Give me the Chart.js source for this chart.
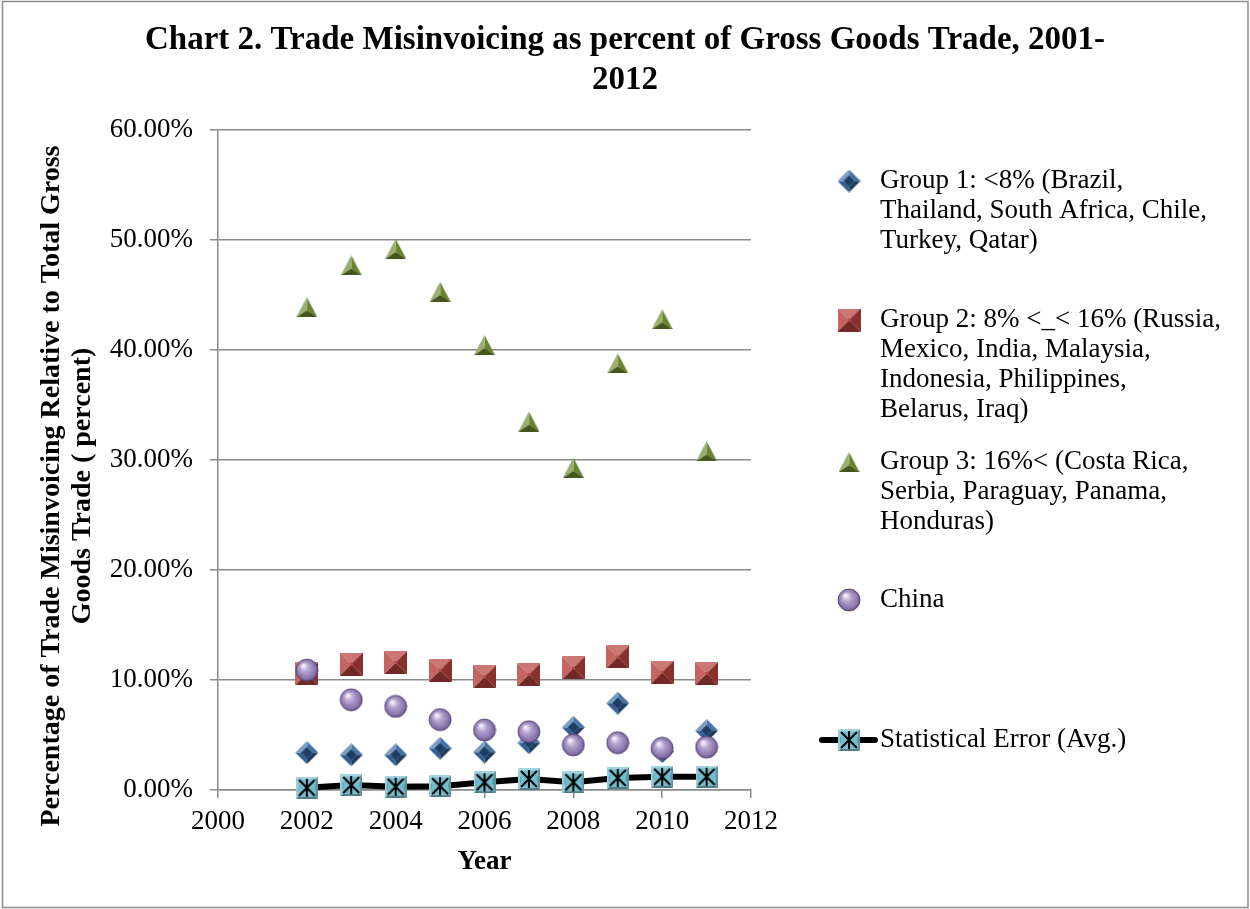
<!DOCTYPE html>
<html>
<head>
<meta charset="utf-8">
<title>Chart 2. Trade Misinvoicing</title>
<script src="https://cdn.jsdelivr.net/npm/chart.js@4.4.1/dist/chart.umd.min.js"></script>
<style>
    html, body { margin: 0; padding: 0; background: #fff; }
    #wrap { width: 1250px; height: 909px; position: relative; }
</style>
</head>
<body>
<div id="wrap"><canvas id="chart" width="1250" height="909"></canvas></div>
<script>
// Data (percent of gross goods trade)
const years = [2002, 2003, 2004, 2005, 2006, 2007, 2008, 2009, 2010, 2011];
const group1 = [3.4, 3.2, 3.2, 3.8, 3.45, 4.3, 5.7, 7.9, 3.5, 5.4];
const group2 = [10.6, 11.45, 11.6, 10.9, 10.3, 10.5, 11.1, 12.1, 10.7, 10.6];
const group3 = [43.9, 47.7, 49.2, 45.3, 40.45, 33.5, 29.3, 38.8, 42.8, 30.8];
const china = [10.9, 8.2, 7.6, 6.4, 5.45, 5.3, 4.1, 4.3, 3.8, 3.9];
const statError = [0.2, 0.45, 0.3, 0.35, 0.7, 1.0, 0.7, 1.1, 1.2, 1.2];

const xMin = 2000, xMax = 2012, xStep = 2;
const yMin = 0, yMax = 60, yStep = 10;

const titleLines = ['Chart 2. Trade Misinvoicing as percent of Gross Goods Trade, 2001-', '2012'];
const xTitle = 'Year';
const yTitleLines = ['Percentage of Trade Misinvoicing Relative to Total Gross', 'Goods Trade ( percent)'];

// legend text, wrapped the way the original wraps it
const legendLabels = [
    ['Group 1: <8% (Brazil,', 'Thailand, South Africa, Chile,', 'Turkey, Qatar)'],
    ['Group 2: 8% <_< 16% (Russia,', 'Mexico, India, Malaysia,', 'Indonesia, Philippines,', 'Belarus, Iraq)'],
    ['Group 3: 16%< (Costa Rica,', 'Serbia, Paraguay, Panama,', 'Honduras)'],
    ['China'],
    ['Statistical Error (Avg.)']
];

const FONT = '"Liberation Serif", "Times New Roman", serif';
const AXIS_GREY = '#898989';

function toPoints(values) {
    return values.map((v, i) => ({ x: years[i], y: v }));
}

// --- beveled marker images (Excel 3D look) ---
function shadeColor(hex, amt) {
    const n = parseInt(hex.slice(1), 16);
    let r = (n >> 16) & 255, g = (n >> 8) & 255, b = n & 255;
    const t = amt > 0 ? 255 : 0;
    const a = Math.abs(amt);
    r = Math.round(r + (t - r) * a);
    g = Math.round(g + (t - g) * a);
    b = Math.round(b + (t - b) * a);
    return 'rgb(' + r + ',' + g + ',' + b + ')';
}

function bevelPolygon(ctx, pts, cx, cy, k, base, inner) {
    const inPts = pts.map(p => [cx + (p[0] - cx) * k, cy + (p[1] - cy) * k]);
    const lx = -0.55, ly = -0.83;
    for (let i = 0; i < pts.length; i++) {
        const a = pts[i], b = pts[(i + 1) % pts.length];
        let nx = b[1] - a[1], ny = -(b[0] - a[0]);
        const len = Math.hypot(nx, ny);
        nx /= len; ny /= len;
        // make sure the normal points outward
        const mx = (a[0] + b[0]) / 2 - cx, my = (a[1] + b[1]) / 2 - cy;
        if (nx * mx + ny * my < 0) { nx = -nx; ny = -ny; }
        const s = nx * lx + ny * ly;
        ctx.fillStyle = shadeColor(base, s > 0 ? s * 0.35 : s * 0.45);
        ctx.beginPath();
        ctx.moveTo(a[0], a[1]);
        ctx.lineTo(b[0], b[1]);
        ctx.lineTo(inPts[(i + 1) % pts.length][0], inPts[(i + 1) % pts.length][1]);
        ctx.lineTo(inPts[i][0], inPts[i][1]);
        ctx.closePath();
        ctx.fill();
    }
    if (k > 0.05) {
        ctx.fillStyle = inner;
        ctx.beginPath();
        inPts.forEach((p, i) => i ? ctx.lineTo(p[0], p[1]) : ctx.moveTo(p[0], p[1]));
        ctx.closePath();
        ctx.fill();
    }
}

function makeCanvas(w, h) {
    const c = document.createElement('canvas');
    c.width = w; c.height = h;
    return c;
}

function diamondMarker() {
    const c = makeCanvas(23, 23), ctx = c.getContext('2d');
    bevelPolygon(ctx, [[11.5, 0], [23, 11.5], [11.5, 23], [0, 11.5]], 11.5, 11.5, 0.5, '#3567a3', '#1c3d66');
    return c;
}

function squareMarker() {
    const c = makeCanvas(23, 23), ctx = c.getContext('2d');
    bevelPolygon(ctx, [[0, 0], [23, 0], [23, 23], [0, 23]], 11.5, 11.5, 0.12, '#b6403c', '#a53c39');
    return c;
}

function triangleMarker() {
    const c = makeCanvas(21, 20), ctx = c.getContext('2d');
    bevelPolygon(ctx, [[10.5, 0], [21, 20], [0, 20]], 10.5, 13, 0.1, '#6c8a2f', '#5e7a28');
    return c;
}

function circleMarker() {
    const c = makeCanvas(24, 24), ctx = c.getContext('2d');
    const g = ctx.createRadialGradient(8.5, 7.5, 1, 12, 12, 11.5);
    g.addColorStop(0, '#f1ecf7');
    g.addColorStop(0.35, '#b3a3cf');
    g.addColorStop(0.8, '#8a74ad');
    g.addColorStop(1, '#5e4a7d');
    ctx.fillStyle = g;
    ctx.beginPath();
    ctx.arc(12, 12, 11, 0, Math.PI * 2);
    ctx.fill();
    ctx.strokeStyle = 'rgba(80,62,110,0.8)';
    ctx.lineWidth = 1;
    ctx.stroke();
    return c;
}

function starSquareMarker() {
    const c = makeCanvas(22, 22), ctx = c.getContext('2d');
    bevelPolygon(ctx, [[0, 0], [22, 0], [22, 22], [0, 22]], 11, 11, 0.8, '#7cc4d4', '#74bccd');
    ctx.strokeStyle = '#000';
    ctx.lineWidth = 2;
    ctx.beginPath();
    ctx.moveTo(11, 2); ctx.lineTo(11, 20);
    ctx.moveTo(3, 3); ctx.lineTo(19, 19);
    ctx.moveTo(19, 3); ctx.lineTo(3, 19);
    ctx.stroke();
    return c;
}

const markers = [diamondMarker(), squareMarker(), triangleMarker(), circleMarker(), starSquareMarker()];

// --- plugins ---
const framePlugin = {
    id: 'frame',
    beforeDraw(chart) {
        const ctx = chart.ctx;
        ctx.save();
        ctx.fillStyle = '#fff';
        ctx.fillRect(0, 0, chart.width, chart.height);
        ctx.strokeStyle = '#8c8c8c';
        ctx.lineWidth = 1.5;
        ctx.strokeRect(2.5, 1.5, chart.width - 4.5, chart.height - 3);
        ctx.restore();
    }
};

// title spans the whole canvas, so it is drawn here rather than by the title plugin
const titlePlugin = {
    id: 'wideTitle',
    afterDraw(chart) {
        const ctx = chart.ctx;
        ctx.save();
        ctx.font = 'bold 33px ' + FONT;
        ctx.fillStyle = '#000';
        ctx.textAlign = 'center';
        ctx.textBaseline = 'middle';
        titleLines.forEach((line, i) => ctx.fillText(line, 625, 40 + i * 40));
        ctx.restore();
    }
};

const yTitlePlugin = {
    id: 'yTitle',
    afterDraw(chart) {
        const ctx = chart.ctx;
        ctx.save();
        ctx.translate(52, 486);
        ctx.rotate(-Math.PI / 2);
        ctx.font = 'bold 28px ' + FONT;
        ctx.fillStyle = '#000';
        ctx.textAlign = 'center';
        ctx.textBaseline = 'middle';
        yTitleLines.forEach((line, i) => ctx.fillText(line, 0, i * 31));
        ctx.restore();
    }
};

const sideLegendPlugin = {
    id: 'sideLegend',
    afterDraw(chart) {
        const ctx = chart.ctx;
        const rowY = [181, 320, 462, 600, 740];
        ctx.save();
        ctx.font = '27px ' + FONT;
        ctx.fillStyle = '#000';
        ctx.textBaseline = 'middle';
        ctx.textAlign = 'left';
        legendLabels.forEach((lines, i) => {
            const y = rowY[i];
            if (i === 4) {
                ctx.strokeStyle = '#000';
                ctx.lineWidth = 6;
                ctx.lineCap = 'round';
                ctx.beginPath();
                ctx.moveTo(822, y);
                ctx.lineTo(875, y);
                ctx.stroke();
            }
            const m = markers[i];
            ctx.drawImage(m, 849 - m.width / 2, y - m.height / 2);
            lines.forEach((t, j) => ctx.fillText(t, 880, y + j * 30));
        });
        ctx.restore();
    }
};

const ctx = document.getElementById('chart').getContext('2d');

new Chart(ctx, {
    type: 'scatter',
    data: {
        datasets: [
            {
                label: legendLabels[4].join(' '),
                data: toPoints(statError),
                pointStyle: markers[4],
                showLine: true,
                borderColor: '#000',
                borderWidth: 6,
                order: 0,
                clip: false
            },
            {
                label: legendLabels[3].join(' '),
                data: toPoints(china),
                pointStyle: markers[3],
                order: 1,
                clip: false
            },
            {
                label: legendLabels[2].join(' '),
                data: toPoints(group3),
                pointStyle: markers[2],
                order: 2,
                clip: false
            },
            {
                label: legendLabels[1].join(' '),
                data: toPoints(group2),
                pointStyle: markers[1],
                order: 4,
                clip: false
            },
            {
                label: legendLabels[0].join(' '),
                data: toPoints(group1),
                pointStyle: markers[0],
                order: 3,
                clip: false
            }
        ]
    },
    options: {
        responsive: false,
        animation: false,
        events: [],
        layout: {
            padding: { left: 0, right: 499, top: 130, bottom: 0 }
        },
        plugins: {
            legend: { display: false },
            tooltip: { enabled: false },
            title: { display: false }
        },
        scales: {
            x: {
                type: 'linear',
                min: xMin,
                max: xMax,
                afterFit: (scale) => { scale.height = 119; },
                ticks: {
                    stepSize: xStep,
                    color: '#000',
                    padding: 8,
                    maxRotation: 0,
                    font: { family: FONT, size: 27 },
                    callback: (v) => String(v)
                },
                grid: {
                    drawOnChartArea: false,
                    tickLength: 8,
                    lineWidth: 1.5,
                    color: AXIS_GREY
                },
                border: { color: AXIS_GREY, width: 1.5 },
                title: {
                    display: true,
                    text: xTitle,
                    color: '#000',
                    font: { family: FONT, size: 27, weight: 'bold', lineHeight: 1.2 },
                    padding: { top: 0, bottom: 31 }
                }
            },
            y: {
                min: yMin,
                max: yMax,
                afterFit: (scale) => { scale.width = 218; },
                ticks: {
                    stepSize: yStep,
                    color: '#000',
                    padding: 17,
                    font: { family: FONT, size: 27 },
                    callback: (v) => v.toFixed(2) + '%'
                },
                grid: {
                    tickLength: 8,
                    lineWidth: 1.5,
                    color: AXIS_GREY
                },
                border: { color: AXIS_GREY, width: 1.5 }
            }
        }
    },
    plugins: [framePlugin, titlePlugin, yTitlePlugin, sideLegendPlugin]
});
</script>
</body>
</html>
